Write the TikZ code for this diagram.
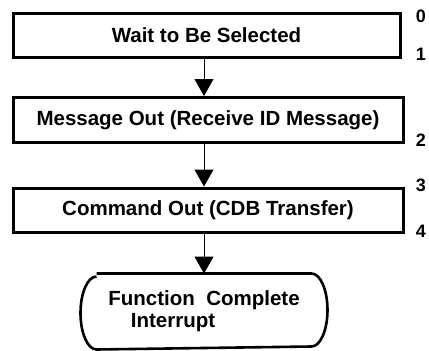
\documentclass[tikz,border=0pt]{standalone}
\usepackage{fontspec}
\setmainfont{Liberation Sans}
\usetikzlibrary{arrows.meta}
\tikzstyle{StepBox} = [draw, line width=3pt, inner sep=0pt, font=\bfseries\fontsize{20.5}{24}\selectfont]
\tikzstyle{FlowLine} = [line width=1pt, -{Triangle[width=19pt,length=17pt]}]
\tikzstyle{PhaseNum} = [font=\bfseries\fontsize{18}{20}\selectfont, inner sep=0pt]

\begin{document}
\begin{tikzpicture}[x=1pt,y=-1pt]
\useasboundingbox (0,0) rectangle (429,351);

\node[StepBox, minimum width=387pt, minimum height=44pt] (wait) at (206.5,35.5) {Wait to Be Selected};
\node[StepBox, minimum width=390pt, minimum height=45pt] (msgout) at (208,120) {Message Out (Receive ID Message)};
\node[StepBox, minimum width=390pt, minimum height=44pt] (cmdout) at (208,210) {Command Out (CDB Transfer)};

% terminal shape
\node[StepBox, draw=none, minimum width=244pt, minimum height=73pt, align=left] (done) at (204,311.5)
  {Function\ \ Complete\\[-2pt]\hspace*{1.1em}Interrupt};
\draw[line width=2.6pt] ([xshift=16pt]done.north west) -- ([xshift=-16pt]done.north east)
  arc[start angle=90, end angle=-90, x radius=16pt, y radius=36.5pt]
  -- ([xshift=16pt]done.south west)
  arc[start angle=270, end angle=90, x radius=16pt, y radius=36.5pt];

\draw[FlowLine] (wait.south -| done.north) -- (msgout.north -| done.north);
\draw[FlowLine] (msgout.south -| done.north) -- (cmdout.north -| done.north);
\draw[FlowLine] (cmdout.south -| done.north) -- (done.north);

\foreach \n/\y in {0/16,1/54,2/140,3/185,4/231}
  \node[PhaseNum] (num\n) at (421,\y) {\n};

\end{tikzpicture}
\end{document}
